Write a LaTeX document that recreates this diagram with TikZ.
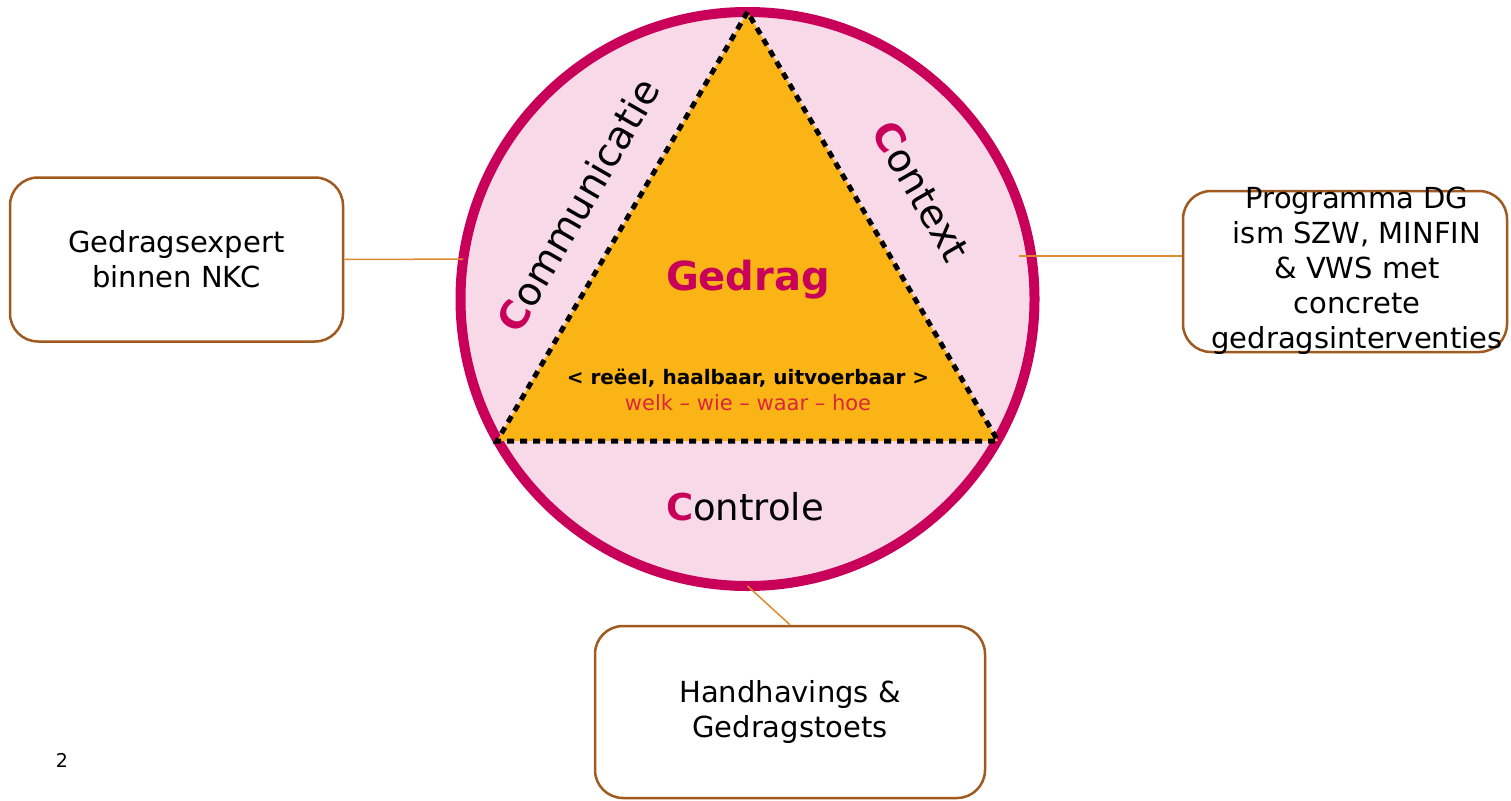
\documentclass[tikz,border=0pt]{standalone}
\usepackage{fontspec}
\setmainfont{DejaVu Sans}
\definecolor{mag}{HTML}{C8005A}
\definecolor{pinkf}{HTML}{F7D9E8}
\definecolor{trif}{HTML}{FBB415}
\definecolor{boxc}{HTML}{A0591E}
\definecolor{conc}{HTML}{DD8A30}
\definecolor{redt}{HTML}{D9273E}
\tikzset{
  rbox/.style={draw=boxc, line width=2.5pt, rounded corners=28pt, fill=white, inner sep=0pt},
  boxtext/.style={align=center, font=\fontsize{29}{35}\selectfont, inner sep=0pt},
  conn/.style={draw=conc, line width=1.5pt},
  ctext/.style={font=\fontsize{39}{42}\selectfont, inner sep=0pt},
}
\newcommand{\bigC}{{\bfseries\color{mag}C}}
\begin{document}
\begin{tikzpicture}[x=1pt,y=-1pt]
\useasboundingbox (0,0) rectangle (1511,800);
% boxes
\node[rbox, minimum width=333pt, minimum height=164pt] (lbox) at (176.5,259.5) {};
\node[boxtext] (ltext) at (lbox.center) {Gedragsexpert\\binnen NKC};
\node[rbox, minimum width=324pt, minimum height=161pt] (rbox) at (1345,271.5) {};
\node[boxtext] (rtext) at (1357,271) {Programma DG\\ism SZW, MINFIN\\\& VWS met\\concrete\\gedragsinterventies};
\node[rbox, minimum width=390pt, minimum height=172pt] (bbox) at (790,712) {};
\node[boxtext] (btext) at (bbox.center) {Handhavings \&\\Gedragstoets};
% circle
\node[circle, draw=mag, fill=pinkf, line width=10pt, minimum size=574pt, inner sep=0pt, outer sep=0pt] (circ) at (747.5,299) {};
% connectors
\draw[conn] (lbox.east) -- (circ.172);
\coordinate (rc) at (1019,256);
\draw[conn] (rc) -- (rc -| rbox.west);
\draw[conn] (circ.south) -- (bbox.north);
% triangle
\coordinate (ta) at (747.5,12);
\coordinate (tl) at (497,441);
\coordinate (tr) at (998,441);
\fill[trif] (ta) -- (tl) -- (tr) -- cycle;
\draw[black, line width=5pt, dash pattern=on 7pt off 6pt] (ta) -- (tl) -- (tr) -- cycle;
% texts
\node[font=\bfseries\fontsize{40}{42}\selectfont, text=mag, inner sep=0pt] (gedrag) at (748,280) {Gedrag};
\node[font=\bfseries\fontsize{20}{22}\selectfont, inner sep=0pt] (crit) at (748,378) {< reëel, haalbaar, uitvoerbaar >};
\node[font=\fontsize{21}{22}\selectfont, text=redt, inner sep=0pt] (wvw) at (748,403) {welk – wie – waar – hoe};
\node[ctext, rotate=60] (comm) at (578,205) {\bigC ommunicatie};
\node[ctext, rotate=-60] (cont) at (921,191) {\bigC ontext};
\node[ctext, font=\fontsize{37}{40}\selectfont] (contr) at (745,507) {\bigC ontrole};
\node[font=\fontsize{19}{20}\selectfont, inner sep=0pt] (pg) at (62,760) {2};
\end{tikzpicture}
\end{document}
